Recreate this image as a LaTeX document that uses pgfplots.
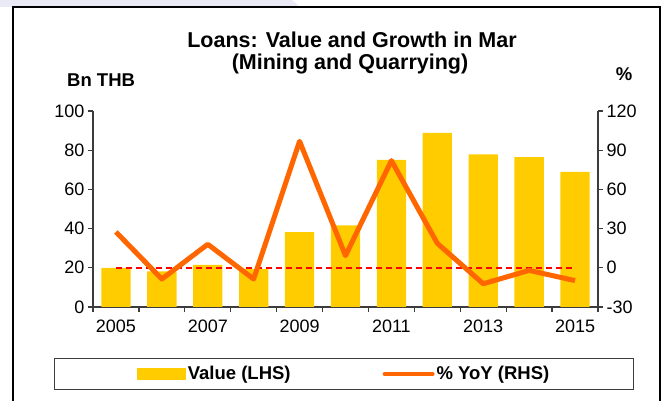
\documentclass[border=0pt]{standalone}
\usepackage{fontspec}
\setmainfont{Liberation Sans}
\usepackage{pgfplots}
\pgfplotsset{compat=1.18}
\definecolor{barc}{RGB}{255,204,0}
\definecolor{linec}{RGB}{255,102,0}
\definecolor{axc}{RGB}{60,60,60}
\definecolor{band}{RGB}{234,234,246}
\begin{document}
\begin{tikzpicture}[x=1pt,y=1pt]
\useasboundingbox (0pt,0pt) rectangle (667pt,401pt);
\fill[band] (0pt,394pt) -- (300pt,394pt) -- (292pt,401pt) -- (0pt,401pt) -- cycle;
\draw[black, line width=1.2pt] (13pt,-2pt) -- (13pt,394pt) -- (660pt,394pt) -- (660pt,-2pt);
\node[font=\bfseries\fontsize{21.5}{24}\selectfont, anchor=base] at (352pt,353.7pt) {Loans: Value and Growth in Mar};
\node[font=\bfseries\fontsize{21.5}{24}\selectfont, anchor=base] at (350pt,331.3pt) {(Mining and Quarrying)};
\node[font=\bfseries\fontsize{18.5}{21}\selectfont, anchor=base west, inner sep=0pt] at (67pt,314pt) {Bn THB};
\node[font=\bfseries\fontsize{18.5}{21}\selectfont, anchor=base, inner sep=0pt] at (624pt,320pt) {\%};
\begin{axis}[at={(93pt,94pt)}, anchor=south west, scale only axis,
  width=505pt, height=196pt,
  xmin=-0.5, xmax=10.5, ymin=0, ymax=100,
  axis x line*=bottom, axis y line*=left,
  axis line style={draw=axc, line width=1.2pt},
  every tick/.style={draw=axc, line width=1.2pt},
  ytick={0,20,...,100},
  xtick={-0.5,0.5,...,10.5}, xticklabel=\empty,
  extra x ticks={0,2,4,6,8,10},
  extra x tick labels={2005,2007,2009,2011,2013,2015},
  extra x tick style={tick style={draw=none}, xticklabel style={yshift=-4pt}},
  tick align=outside, major tick length=5pt,
  tick label style={font=\fontsize{18}{20}\selectfont},
  /pgf/number format/assume math mode=true,
  clip=false]
\addplot[ybar, bar width=29.3pt, fill=barc, draw=none]
  coordinates {(0,20) (1,18.2) (2,21.5) (3,19.3) (4,38.2) (5,41.6) (6,75) (7,88.8) (8,77.9) (9,76.5) (10,69)};
\end{axis}
\begin{axis}[at={(93pt,94pt)}, anchor=south west, scale only axis,
  width=505pt, height=196pt,
  xmin=-0.5, xmax=10.5, ymin=-30, ymax=120,
  axis x line=none, axis y line*=right,
  axis line style={draw=axc, line width=1.2pt},
  every tick/.style={draw=axc, line width=1.2pt},
  ytick={-30,0,...,120},
  tick align=outside, major tick length=5pt,
  tick label style={font=\fontsize{18}{20}\selectfont},
  /pgf/number format/assume math mode=true,
  clip=false,
  legend columns=2,
  legend style={at={(0.497,-0.342)}, anchor=center, draw=axc, line width=1.2pt,
    inner xsep=82pt, inner ysep=6pt,
    font=\bfseries\fontsize{18.5}{21}\selectfont,
    /tikz/every even column/.append style={column sep=90pt}},
  ]
\addlegendimage{legend image code/.code={\fill[barc] (0pt,-5pt) rectangle (48pt,5pt);}}
\addlegendentry{Value (LHS)}
\addplot[draw=red, line width=2pt, dash pattern=on 6pt off 4pt, forget plot]
  coordinates {(0,0) (10,0)};
\addplot[draw=linec, line width=5pt, line join=round, mark=none,
  legend image code/.code={\draw[linec, line width=4pt, line cap=round] (0pt,0pt) -- (48pt,0pt);}]
  coordinates {(0,27.4) (1,-8.6) (2,18) (3,-8.6) (4,96.8) (5,9.3) (6,82) (7,18.7) (8,-12.2) (9,-2) (10,-9.8)};
\addlegendentry{\% YoY (RHS)}
\end{axis}
\end{tikzpicture}
\end{document}
